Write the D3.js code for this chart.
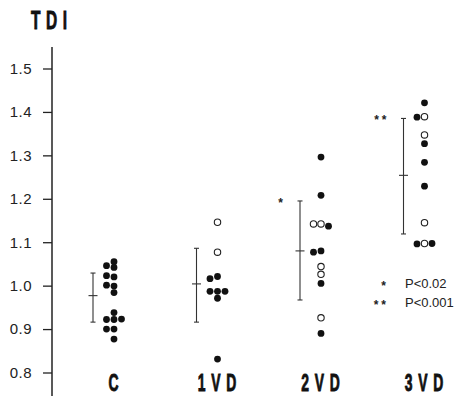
<!DOCTYPE html>
<html>
<head>
<meta charset="utf-8">
<script src="https://cdn.jsdelivr.net/npm/d3@7"></script>
<style>
  body { margin: 0; background: #fff; }
  svg { display: block; }
  .tick-label { font-family: "Liberation Sans", Arial, sans-serif; font-size: 15px; fill: #222; }
  .cat { font-family: "Liberation Sans", Arial, sans-serif; font-weight: bold; font-size: 24px; fill: #111; stroke: #111; stroke-width: 0.9px; letter-spacing: 10px; }
  .legend { font-family: "Liberation Sans", Arial, sans-serif; font-size: 13px; fill: #222; }
</style>
</head>
<body>
<div id="chart"></div>
<script>
// Chart size
var width = 457;
var height = 396;

// Groups along the x axis
var categories = ["C", "1VD", "2VD", "3VD"];

// TDI values, per group
// (the first dot of a row goes in the middle, next one left, next right)
var valuesC   = [1.055, 1.042, 1.046, 1.020, 1.023, 0.999, 1.001, 0.984,
                 0.938, 0.922, 0.922, 0.923, 0.900, 0.900, 0.877];
var values1VD = [1.146, 1.077, 1.021, 1.016, 0.987, 0.987, 0.987, 0.971, 0.831];
var values2VD = [1.296, 1.208, 1.142, 1.142, 1.137, 1.080, 1.077, 1.044, 1.026,
                 1.005, 0.926, 0.890];
var values3VD = [1.421, 1.389, 1.388, 1.347, 1.327, 1.284, 1.229, 1.145,
                 1.097, 1.096, 1.097];

// true = filled dot, false = open circle
var filledC   = [true, true, true, true, true, true, true, true,
                 true, true, true, true, true, true, true];
var filled1VD = [false, false, true, true, true, true, true, true, true];
var filled2VD = [true, true, false, false, true, true, true, false, false,
                 true, false, true];
var filled3VD = [true, false, true, false, true, true, true, false,
                 false, true, true];

// Mean and spread bars
var means = [0.977, 1.004, 1.080, 1.254];
var upper = [1.029, 1.086, 1.195, 1.385];
var lower = [0.916, 0.916, 0.967, 1.119];

// Significance marks
var marks = ["", "", "*", "**"];

// Y axis ticks
var yTicks = [0.8, 0.9, 1.0, 1.1, 1.2, 1.3, 1.4, 1.5];

var legendMarks = ["*", "**"];
var legendTexts = ["P<0.02", "P<0.001"];

var groups = [
    { values: valuesC, filled: filledC },
    { values: values1VD, filled: filled1VD },
    { values: values2VD, filled: filled2VD },
    { values: values3VD, filled: filled3VD }
];

// Create the SVG
var svg = d3.select("#chart").append("svg")
    .attr("width", width)
    .attr("height", height);

// Scales
var y = d3.scaleLinear().domain([0.8, 1.5]).range([372.5, 68.5]);
var x = d3.scalePoint().domain(categories).range([114, 424.5]);

var axisX = 52;
var dotGap = 7.5;   // horizontal distance between dots in one row
var barOffset = -21; // mean bar sits left of the dots

// Title, squeezed to look like a condensed face
svg.append("text")
    .attr("class", "cat")
    .attr("transform", "translate(31,29) scale(0.62,1)")
    .style("font-size", "25px")
    .style("letter-spacing", "9px")
    .text("TDI");

// Y axis
var axis = svg.append("g")
    .attr("transform", "translate(" + axisX + ",0)")
    .call(d3.axisLeft(y).tickValues(yTicks).tickFormat(d3.format(".1f")).tickSize(9).tickPadding(11));
axis.select(".domain").remove();
axis.selectAll(".tick line").attr("stroke", "#222").attr("stroke-width", 1.3);
axis.selectAll(".tick text").attr("class", "tick-label").attr("font-size", null).attr("font-family", null)
    .style("letter-spacing", "0.5px");

svg.append("line")
    .attr("x1", axisX).attr("x2", axisX)
    .attr("y1", 47).attr("y2", height)
    .attr("stroke", "#222")
    .attr("stroke-width", 1.5);

// Place dots: values that nearly match share a row
function layoutDots(group) {
    var rows = [];
    return group.values.map(function(v, i) {
        var row = rows.find(function(r) { return Math.abs(r.v - v) < 0.008; });
        if (!row) { row = { v: v, n: 0 }; rows.push(row); }
        var col = [0, -1, 1][row.n];
        row.n += 1;
        return { v: v, filled: group.filled[i], col: col };
    });
}

var plot = svg.append("g");

categories.forEach(function(cat, gi) {
    var cx = x(cat);
    var dots = layoutDots(groups[gi]);

    plot.selectAll(".dot-" + gi)
        .data(dots)
        .enter().append("circle")
        .attr("class", "dot-" + gi)
        .attr("cx", function(d) { return cx + d.col * dotGap; })
        .attr("cy", function(d) { return y(d.v); })
        .attr("r", function(d) { return d.filled ? 3.4 : 3.2; })
        .attr("fill", function(d) { return d.filled ? "#111" : "#fff"; })
        .attr("stroke", "#222")
        .attr("stroke-width", function(d) { return d.filled ? 0 : 1.1; });

    // Mean with spread
    var bx = cx + barOffset;
    var bar = plot.append("g").attr("stroke", "#333").attr("stroke-width", 1.1);
    bar.append("line").attr("x1", bx).attr("x2", bx).attr("y1", y(upper[gi])).attr("y2", y(lower[gi]));
    bar.append("line").attr("x1", bx - 2.5).attr("x2", bx + 2.5).attr("y1", y(upper[gi])).attr("y2", y(upper[gi]));
    bar.append("line").attr("x1", bx - 2.5).attr("x2", bx + 2.5).attr("y1", y(lower[gi])).attr("y2", y(lower[gi]));
    bar.append("line").attr("x1", bx - 4.5).attr("x2", bx + 4.5).attr("y1", y(means[gi])).attr("y2", y(means[gi]));

    if (marks[gi]) {
        plot.append("text")
            .attr("class", "legend")
            .attr("x", bx - 14)
            .attr("y", y(upper[gi]) + 6)
            .attr("text-anchor", "end")
            .style("font-size", "12px")
            .style("font-weight", "bold")
            .style("letter-spacing", "3px")
            .text(marks[gi]);
    }

    // Group label, squeezed like the condensed face in the picture
    svg.append("text")
        .attr("class", "cat")
        .attr("transform", "translate(" + (cx + 2.4) + ",391) scale(0.58,1)")
        .attr("text-anchor", "middle")
        .text(cat);
});

// Legend
var legend = svg.append("g");
legendTexts.forEach(function(t, i) {
    var ly = 288 + i * 19;
    legend.append("text")
        .attr("class", "legend")
        .attr("x", 389)
        .attr("y", ly + 2)
        .attr("text-anchor", "end")
        .style("font-size", "12px")
        .style("font-weight", "bold")
        .style("letter-spacing", "3px")
        .text(legendMarks[i]);
    legend.append("text")
        .attr("class", "legend")
        .attr("x", 405)
        .attr("y", ly)
        .text(t);
});
</script>
</body>
</html>
